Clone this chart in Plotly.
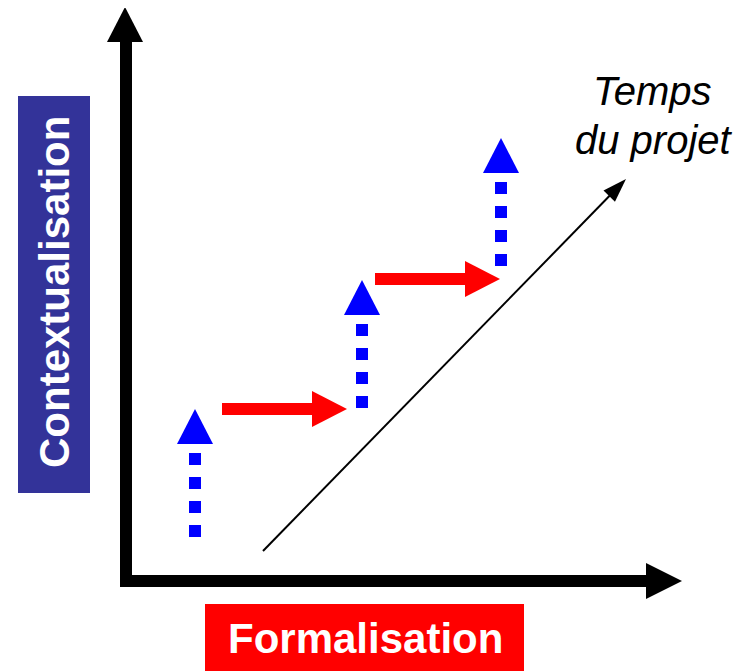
import numpy as np
import plotly.graph_objects as go

W, H = 749, 671
PAD = 8  # page body margin: make data coordinates equal page pixels

# --- diagram data (pixel space of the canvas) ---
blue_x = [195, 362, 501]          # centre of each upward (contextualisation) arrow
blue_tip_y = [409, 280, 138]      # tip of each blue arrowhead
blue_dots = [4, 4, 4]             # number of dotted squares under each head

red_start_x = [222, 375]          # formalisation arrows
red_tip_x = [347, 500]
red_y = [409, 279]

time_start = (263, 551)           # "Temps du projet" diagonal
time_end = (626, 179)

axis_origin = (126, 581)
axis_y_tip = 7
axis_x_tip = 682

BLUE = "#0000FF"
RED = "#FF0000"
FONT = "Arial, Liberation Sans, sans-serif"

shapes = []

def tri(p1, p2, p3, color):
    return dict(type="path", xref="x", yref="y",
                path=f"M{p1[0]},{p1[1]} L{p2[0]},{p2[1]} L{p3[0]},{p3[1]} Z",
                fillcolor=color, line=dict(width=0), layer="above")

def rect(x0, y0, x1, y1, color):
    return dict(type="rect", xref="x", yref="y", x0=x0, y0=y0, x1=x1, y1=y1,
                fillcolor=color, line=dict(width=0), layer="above")

# label boxes
shapes.append(rect(18, 96, 90, 493, "#333399"))
shapes.append(rect(205, 604, 524, 672, RED))

# axes
ox, oy = axis_origin
shapes.append(rect(ox - 6, axis_y_tip + 35, ox + 6, oy + 6, "black"))
shapes.append(tri((ox - 19, axis_y_tip + 35), (ox + 17, axis_y_tip + 35), (ox - 1, axis_y_tip), "black"))
shapes.append(rect(ox - 6, oy - 6, axis_x_tip - 36, oy + 6, "black"))
shapes.append(tri((axis_x_tip - 36, oy - 18), (axis_x_tip - 36, oy + 18), (axis_x_tip, oy), "black"))

# blue dotted arrows
for bx, ty, n in zip(blue_x, blue_tip_y, blue_dots):
    base = ty + 35
    shapes.append(tri((bx - 18, base), (bx + 18, base), (bx, ty), BLUE))
    for k in range(n):
        y0 = base + 9 + 24 * k
        shapes.append(rect(bx - 6, y0, bx + 6, y0 + 12, BLUE))

# red arrows
for sx, tx, ry in zip(red_start_x, red_tip_x, red_y):
    hb = tx - 35
    shapes.append(rect(sx, ry - 6, hb, ry + 6, RED))
    shapes.append(tri((hb, ry - 18), (hb, ry + 18), (tx, ry), RED))

# diagonal time arrow
p0 = np.array(time_start, float)
p1 = np.array(time_end, float)
d = (p1 - p0) / np.linalg.norm(p1 - p0)
nrm = np.array([-d[1], d[0]])
hl, hw = 24, 8
hb = p1 - d * hl
shapes.append(dict(type="line", xref="x", yref="y", x0=p0[0], y0=p0[1],
                   x1=hb[0] + d[0] * 4, y1=hb[1] + d[1] * 4,
                   line=dict(color="black", width=2), layer="above"))
shapes.append(tri(tuple(hb + nrm * hw), tuple(hb - nrm * hw), tuple(p1), "black"))

annotations = [
    dict(x=54, y=292, text="<b>Contextualisation</b>", textangle=-90, showarrow=False,
         font=dict(family=FONT, size=42, color="white"), xref="x", yref="y"),
    dict(x=365, y=638, text="<b>Formalisation</b>", showarrow=False,
         font=dict(family=FONT, size=42, color="white"), xref="x", yref="y"),
    dict(x=652, y=91, text="<i>Temps</i>", showarrow=False,
         font=dict(family=FONT, size=40, color="black"), xref="x", yref="y"),
    dict(x=654, y=140, text="<i>du projet</i>", showarrow=False,
         font=dict(family=FONT, size=40, color="black"), xref="x", yref="y"),
]

fig = go.Figure()
fig.update_layout(
    width=W - PAD, height=H - PAD, margin=dict(l=0, r=0, t=0, b=0),
    paper_bgcolor="white", plot_bgcolor="white",
    xaxis=dict(range=[PAD, W], visible=False, fixedrange=True),
    yaxis=dict(range=[H, PAD], visible=False, fixedrange=True),
    shapes=shapes, annotations=annotations, showlegend=False,
)
fig.write_html("out.html")
